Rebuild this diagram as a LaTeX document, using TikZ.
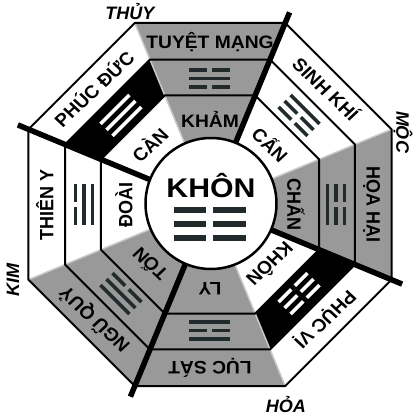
\documentclass[tikz,border=0pt]{standalone}
\usepackage{fontspec}
\setmainfont{Liberation Sans}
\definecolor{sgray}{RGB}{153,153,153}
\definecolor{tri}{RGB}{33,43,43}
\definecolor{hl}{RGB}{200,200,200}
\newcommand\yaoline[6]{%
  \ifnum#2=1
    \fill[#6] (-#3,#1-#5/2) rectangle (#3,#1+#5/2);
  \else
    \fill[#6] (-#3,#1-#5/2) rectangle (-#4,#1+#5/2);
    \fill[#6] (#4,#1-#5/2) rectangle (#3,#1+#5/2);
  \fi}
\newcommand\trigram[5]{%
  \begin{scope}[shift={(#1:126)}, rotate={#1-90}]
    \yaoline{-8.5}{#3}{20.5}{2.5}{3.5}{#2}
    \yaoline{0}{#4}{20.5}{2.5}{3.5}{#2}
    \yaoline{8.5}{#5}{20.5}{2.5}{3.5}{#2}
  \end{scope}}
\begin{document}
\begin{tikzpicture}[x=1pt,y=1pt,
  lab/.style={font=\bfseries\fontsize{18}{18}\selectfont, inner sep=0pt, anchor=base, xscale=1.07},
  corner/.style={font=\bfseries\itshape\fontsize{18}{18}\selectfont, inner sep=0pt},
  ringline/.style={line width=2pt, line join=miter},
  divider/.style={line width=5.5pt},
]
\useasboundingbox (-210,-213.5) rectangle (205,204.5);
\def\Ro{196.5}\def\Rm{156.9}\def\Ri{118}
% sector fills
\foreach \a/\c in {90/sgray,45/white,0/sgray,-45/white,-90/sgray,-135/sgray,180/white,135/white}
  \fill[\c] (0,0) -- (\a-22.5:\Ro) -- (\a+22.5:\Ro) -- cycle;
% black middle rings
\foreach \a in {-45,135}
  \fill[black] (\a-22.5:\Ri) -- (\a+22.5:\Ri) -- (\a+22.5:\Rm) -- (\a-22.5:\Rm) -- cycle;
% light edges between grey and white
\foreach \a in {112.5,22.5,-67.5,-157.5}
  \draw[hl, line width=1.5pt] (\a:60) -- (\a:\Ro);
% octagon rings
\foreach \r in {\Ro,\Rm,\Ri}
  \draw[ringline] (22.5:\r) -- (67.5:\r) -- (112.5:\r) -- (157.5:\r) -- (202.5:\r) -- (247.5:\r) -- (292.5:\r) -- (337.5:\r) -- cycle;
% thick dividers
\foreach \a in {67.5,157.5,-112.5,-22.5}
  \draw[divider] (\a:60) -- (\a:208);
% centre circle
\draw[fill=white, line width=2.5pt] (1,1) circle (65.5);
% trigrams
\trigram{90}{tri}{0}{1}{0}
\trigram{45}{tri}{0}{0}{1}
\trigram{0}{tri}{1}{0}{0}
\trigram{-45}{white}{0}{0}{0}
\trigram{-90}{tri}{1}{0}{1}
\trigram{-135}{tri}{0}{1}{1}
\trigram{180}{tri}{1}{1}{0}
\trigram{135}{white}{1}{1}{1}
% outer names
\foreach \a/\t [count=\i] in {90/TUYỆT MẠNG,45/SINH KHÍ,0/HỌA HẠI,-45/PHỤC VỊ,-90/LỤC SÁT,-135/NGŨ QUỶ,180/THIÊN Y,135/PHÚC ĐỨC}
  \node[lab, rotate={\a-90}] (o\i) at (\a:156.5) {\t};
% inner names
\foreach \a/\t [count=\i] in {90/KHẢM,45/CẤN,0/CHẤN,-45/KHÔN,-90/LY,-135/TỐN,180/ĐOÀI,135/CÀN}
  \node[lab, rotate={\a-90}] (i\i) at (\a:77.5) {\t};
% centre
\node[font=\bfseries\fontsize{27}{27}\selectfont, inner sep=0pt, anchor=base, xscale=1.12] (khon) at (1,7) {KHÔN};
\begin{scope}[shift={(0,-19.5)}]
  \yaoline{14}{0}{36}{3.5}{6.5}{tri}
  \yaoline{0}{0}{36}{3.5}{6.5}{tri}
  \yaoline{-14}{0}{36}{3.5}{6.5}{tri}
\end{scope}
% element labels
\node[corner] (thuy) at (-80,192.5) {THỦY};
\node[corner, rotate=-90] (moc) at (193,72.5) {MỘC};
\node[corner] (hoa) at (76,-200.5) {HỎA};
\node[corner, rotate=90] (kim) at (-197,-75.5) {KIM};
\end{tikzpicture}
\end{document}
